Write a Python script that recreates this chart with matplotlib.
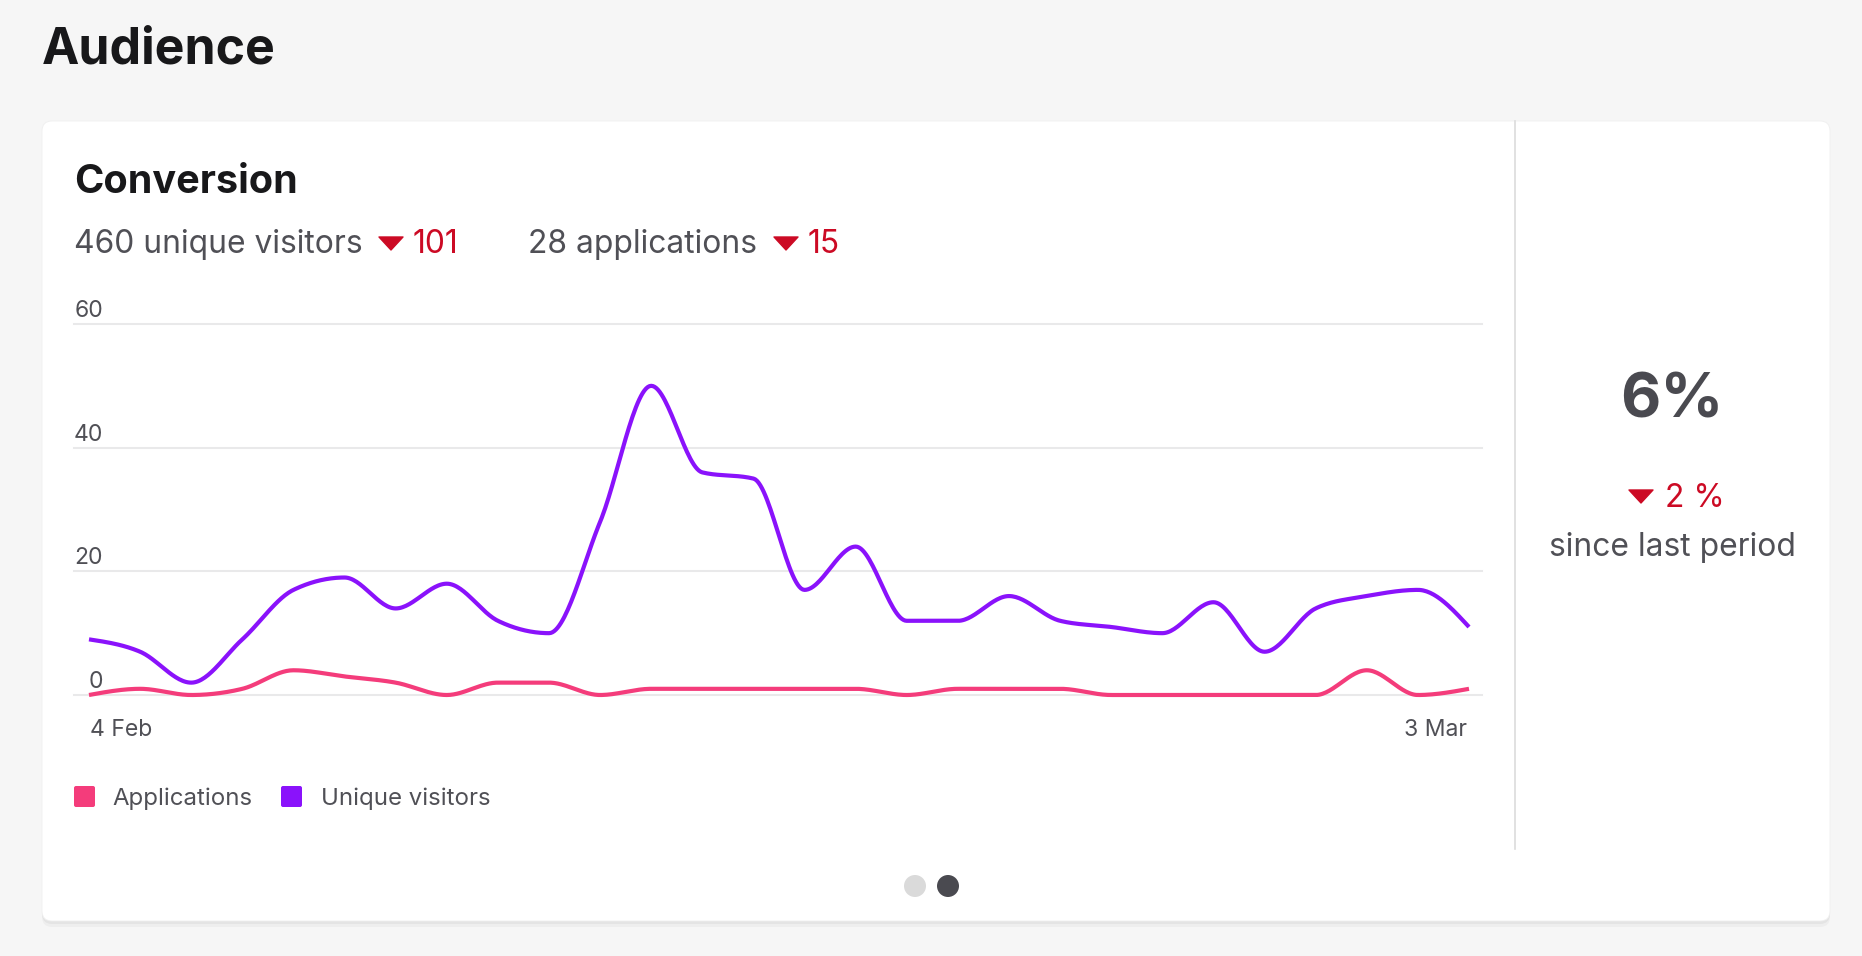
import numpy as np
import pandas as pd
import matplotlib
matplotlib.use("Agg")
import matplotlib.pyplot as plt
from matplotlib.patches import FancyBboxPatch, Polygon, Circle

plt.rcParams['font.family'] = ['Inter', 'DejaVu Sans']

# daily values, 4 Feb .. 3 Mar
days = pd.date_range("2023-02-04", "2023-03-03", freq="D")
visitors = [9, 7, 2, 9, 17, 19, 14, 18, 12, 10, 28, 50, 36, 35,
            17, 24, 12, 12, 16, 12, 11, 10, 15, 7, 14, 16, 17, 11]
applications = [0, 1, 0, 1, 4, 3, 2, 0, 2, 2, 0, 1, 1, 1,
                1, 1, 0, 1, 1, 1, 0, 0, 0, 0, 0, 4, 0, 1]
y_ticks = [0, 20, 40, 60]
x_labels = ["4 Feb", "3 Mar"]

conv_rate = "6%"
conv_change = "2 %"
visitors_total, visitors_drop = 460, 101
apps_total, apps_drop = 28, 15

PINK = "#f43c7b"
PURPLE = "#8a12fb"
RED = "#cc0a24"
GREY_TXT = "#505056"
DARK = "#18181a"


def monotone(x, y, n=30):
    # same shape as d3 curveMonotoneX
    x = np.asarray(x, float)
    y = np.asarray(y, float)
    h = np.diff(x)
    s = np.diff(y) / h
    t = np.zeros(len(x))
    for i in range(1, len(x) - 1):
        p = (s[i - 1] * h[i] + s[i] * h[i - 1]) / (h[i - 1] + h[i])
        t[i] = (np.sign(s[i - 1]) + np.sign(s[i])) * min(abs(s[i - 1]), abs(s[i]), 0.5 * abs(p))
    t[0] = (3 * s[0] - t[1]) / 2
    t[-1] = (3 * s[-1] - t[-2]) / 2
    xs, ys = [], []
    for i in range(len(x) - 1):
        u = np.linspace(0, 1, n, endpoint=(i == len(x) - 2))
        h00 = 2 * u**3 - 3 * u**2 + 1
        h10 = u**3 - 2 * u**2 + u
        h01 = -2 * u**3 + 3 * u**2
        h11 = u**3 - u**2
        xs.append(x[i] + u * h[i])
        ys.append(h00 * y[i] + h10 * h[i] * t[i] + h01 * y[i + 1] + h11 * h[i] * t[i + 1])
    return np.concatenate(xs), np.concatenate(ys)


W, H = 1862, 956
fig = plt.figure(figsize=(W / 100, H / 100), dpi=100)
fig.patch.set_facecolor("#f6f6f6")

bg = fig.add_axes([0, 0, 1, 1])
bg.set_xlim(0, W)
bg.set_ylim(H, 0)
bg.axis("off")

def pt(px):
    return px * 0.72

# card with soft shadow
for off, a in [(6, 0.03), (3, 0.04)]:
    bg.add_patch(FancyBboxPatch((42, 121 + off), 1788, 800, boxstyle="round,pad=0,rounding_size=10",
                                fc="black", ec="none", alpha=a))
bg.add_patch(FancyBboxPatch((42, 121), 1788, 800, boxstyle="round,pad=0,rounding_size=10",
                            fc="white", ec="#efefef", lw=0.6))
bg.plot([1515, 1515], [121, 849], color="#dcdcdc", lw=1.2)

bg.text(42, 63, "Audience", fontsize=pt(50), fontweight="bold", color=DARK, va="baseline")
bg.text(74, 193, "Conversion", fontsize=pt(39.6), fontweight="bold", color=DARK, va="baseline")


def down_tri(x, y, w=24, h=13):
    bg.add_patch(Polygon([(x, y), (x + w, y), (x + w / 2, y + h)], closed=True, fc=RED, ec=RED,
                         lw=1, joinstyle="round"))


sub_y = 253
sub_fs = pt(31.8)
bg.text(74, sub_y, f"{visitors_total} unique visitors", fontsize=sub_fs, color=GREY_TXT, va="baseline")
down_tri(379, 237)
bg.text(413, sub_y, f"{visitors_drop}", fontsize=sub_fs, color=RED, va="baseline")
bg.text(528, sub_y, f"{apps_total} applications", fontsize=sub_fs, color=GREY_TXT, va="baseline")
down_tri(774, 237)
bg.text(808, sub_y, f"{apps_drop}", fontsize=sub_fs, color=RED, va="baseline")

# right KPI panel
bg.text(1672, 418, conv_rate, fontsize=pt(62), fontweight="bold", color="#4a4a50", ha="center", va="baseline")
down_tri(1629, 490)
bg.text(1665, 507, conv_change, fontsize=sub_fs, color=RED, va="baseline")
bg.text(1672, 556, "since last period", fontsize=sub_fs, color=GREY_TXT, ha="center", va="baseline")

# legend
bg.add_patch(FancyBboxPatch((74, 786), 21, 21, boxstyle="round,pad=0,rounding_size=2", fc=PINK, ec="none"))
bg.text(112, 805, "Applications", fontsize=pt(24), color=GREY_TXT, va="baseline")
bg.add_patch(FancyBboxPatch((281, 786), 21, 21, boxstyle="round,pad=0,rounding_size=2", fc=PURPLE, ec="none"))
bg.text(321, 805, "Unique visitors", fontsize=pt(24), color=GREY_TXT, va="baseline")

# page dots
bg.add_patch(Circle((915, 886), 11, fc="#dadada", ec="none"))
bg.add_patch(Circle((948, 886), 11, fc="#4a4a50", ec="none"))

# chart area: x index 0 at 89px, 27 at 1469px; y 0 at 695px, 60 at 324px
x0px, x1px, gl, gr = 89, 1469, 74, 1482
y0px, y60px = 695, 324
n = len(visitors)
step = (x1px - x0px) / (n - 1)
ax = fig.add_axes([gl / W, 1 - y0px / H, (gr - gl) / W, (y0px - y60px) / H])
ax.set_xlim(-(x0px - gl) / step, (n - 1) + (gr - x1px) / step)
ax.set_ylim(0, 60)
ax.axis("off")

for v in y_ticks:
    ax.axhline(v, color="#e9e9ea", lw=1.5, zorder=0, clip_on=False)
    ax.annotate(str(v), xy=(0, v), xycoords=("axes fraction", "data"), xytext=(29, 7),
                textcoords="offset pixels", ha="right", va="baseline", fontsize=pt(23), color=GREY_TXT)

xi = np.arange(n)
px, py = monotone(xi, applications)
ax.plot(px, py, color=PINK, lw=3.0, solid_capstyle="butt", clip_on=False, zorder=3)
vx, vy = monotone(xi, visitors)
ax.plot(vx, vy, color=PURPLE, lw=3.0, solid_capstyle="butt", clip_on=False, zorder=4)

ax.annotate(x_labels[0], xy=(0, 0), xycoords="data", xytext=(1, -41), textcoords="offset pixels",
            ha="left", va="baseline", fontsize=pt(23), color=GREY_TXT)
ax.annotate(x_labels[1], xy=(n - 1, 0), xycoords="data", xytext=(-2, -41), textcoords="offset pixels",
            ha="right", va="baseline", fontsize=pt(23), color=GREY_TXT)

fig.savefig("out.png", dpi=100, facecolor=fig.get_facecolor())
